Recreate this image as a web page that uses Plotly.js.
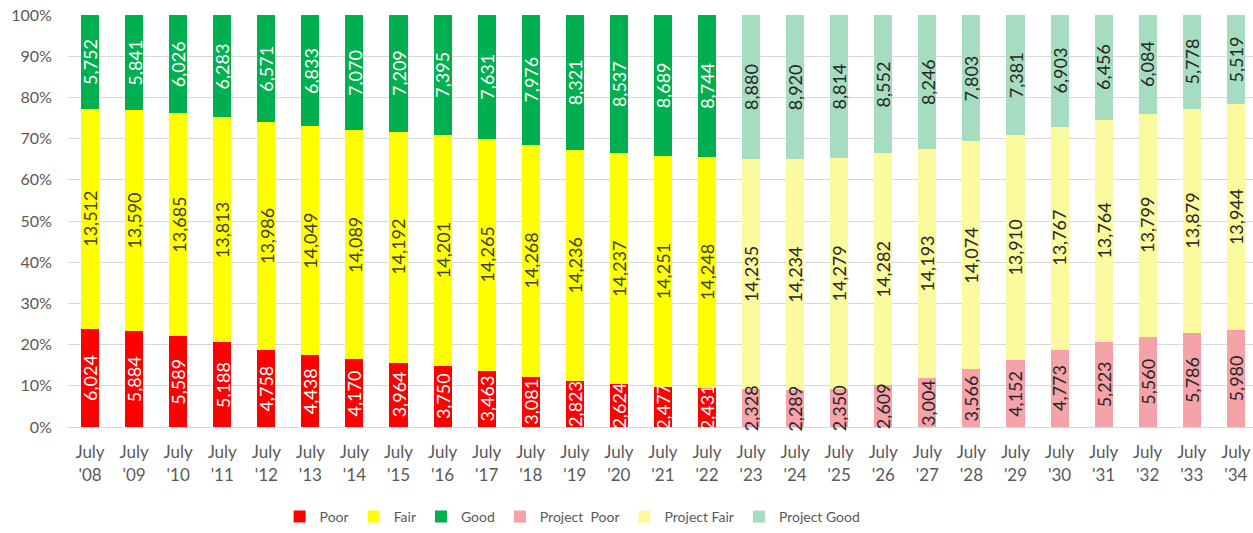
<!DOCTYPE html>
<html>
<head>
<meta charset="utf-8">
<script src="https://cdn.plot.ly/plotly-3.0.1.min.js"></script>
<style>html,body{margin:0;padding:0;background:#fff;}#chart{width:1253px;height:533px;}</style>
</head>
<body>
<div id="chart"></div>
<script>
const categories = ["July<br>'08","July<br>'09","July<br>'10","July<br>'11","July<br>'12","July<br>'13","July<br>'14","July<br>'15","July<br>'16","July<br>'17","July<br>'18","July<br>'19","July<br>'20","July<br>'21","July<br>'22","July<br>'23","July<br>'24","July<br>'25","July<br>'26","July<br>'27","July<br>'28","July<br>'29","July<br>'30","July<br>'31","July<br>'32","July<br>'33","July<br>'34"];
const actualCount = 15;
const poor = [6024,5884,5589,5188,4758,4438,4170,3964,3750,3463,3081,2823,2624,2477,2431,2328,2289,2350,2609,3004,3566,4152,4773,5223,5560,5786,5980];
const fair = [13512,13590,13685,13813,13986,14049,14089,14192,14201,14265,14268,14236,14237,14251,14248,14235,14234,14279,14282,14193,14074,13910,13767,13764,13799,13879,13944];
const good = [5752,5841,6026,6283,6571,6833,7070,7209,7395,7631,7976,8321,8537,8689,8744,8880,8920,8814,8552,8246,7803,7381,6903,6456,6084,5778,5519];

const FONT = "Lato, 'Open Sans', sans-serif";
const isActual = i => i < actualCount;
function part(arr, actual) {
  return arr.map((v, i) => (isActual(i) === actual) ? v : null);
}
function mk(name, arr, actual, color) {
  return {
    type: 'bar', name: name, x: categories, y: part(arr, actual),
    marker: {color: color, line: {width: 0}},
    hoverinfo: 'skip'
  };
}
const traces = [
  mk('Poor', poor, true, '#ff0000'),
  mk('Fair', fair, true, '#ffff00'),
  mk('Good', good, true, '#00b050'),
  mk('Project  Poor', poor, false, '#f5a2a9'),
  mk('Project Fair', fair, false, '#fbfa9f'),
  mk('Project Good', good, false, '#a6ddc0')
];

// data labels positioned at the middle of each stacked segment (percent scale)
const annotations = [];
const series = [
  {vals: poor, actualColor: '#ffffff'},
  {vals: fair, actualColor: '#404040'},
  {vals: good, actualColor: '#ffffff'}
];
categories.forEach((c, i) => {
  const total = poor[i] + fair[i] + good[i];
  let base = 0;
  series.forEach(s => {
    const pct = s.vals[i] / total * 100;
    annotations.push({
      x: c, y: base + pct / 2, xref: 'x', yref: 'y',
      text: s.vals[i].toLocaleString('en-US'),
      showarrow: false, textangle: -90,
      font: {family: FONT, size: 18, color: isActual(i) ? s.actualColor : '#262626'}
    });
    base += pct;
  });
});

const layout = {
  width: 1253, height: 533,
  margin: {l: 68, r: 0, t: 15, b: 106},
  paper_bgcolor: '#ffffff', plot_bgcolor: '#ffffff',
  barmode: 'stack', barnorm: 'percent', bargap: 0.59,
  showlegend: true,
  legend: {orientation: 'h', xref: 'container', yref: 'container', x: 0.457, xanchor: 'center', y: 0.03, yanchor: 'middle',
           font: {family: FONT, size: 14, color: '#595959'}, itemwidth: 30, traceorder: 'normal'},
  font: {family: FONT, color: '#595959'},
  annotations: annotations,
  xaxis: {type: 'category', range: [-0.5, 26.39], showgrid: false, zeroline: false, showline: false,
          ticks: 'outside', ticklen: 10, tickcolor: 'rgba(0,0,0,0)',
          tickfont: {family: FONT, size: 17, color: '#595959'}, fixedrange: true},
  yaxis: {range: [0, 100], dtick: 10, ticksuffix: '%', showgrid: true, gridcolor: '#d9d9d9', gridwidth: 1,
          zeroline: true, zerolinecolor: '#d9d9d9', showline: false,
          ticks: 'outside', ticklen: 12, tickcolor: 'rgba(0,0,0,0)',
          tickfont: {family: FONT, size: 16, color: '#595959'}, fixedrange: true}
};
Plotly.newPlot('chart', traces, layout, {displayModeBar: false, staticPlot: true});
</script>
</body>
</html>
